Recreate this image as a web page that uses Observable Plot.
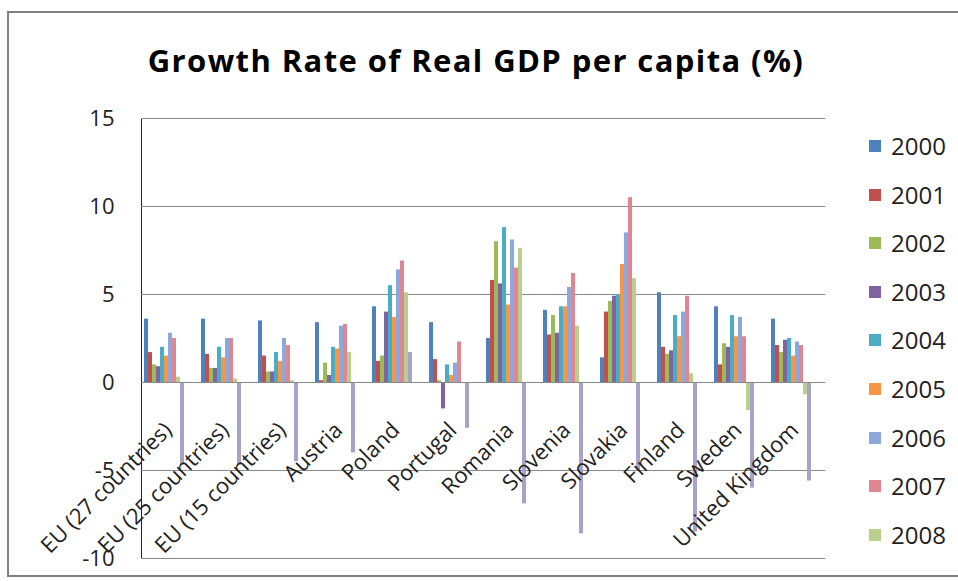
<!DOCTYPE html>
<html>
<head>
<meta charset="utf-8">
<script src="https://cdn.jsdelivr.net/npm/d3@7"></script>
<script src="https://cdn.jsdelivr.net/npm/@observablehq/plot@0.6"></script>
<style>
  html, body { margin: 0; padding: 0; background: #fff; }
  #wrap { position: relative; width: 958px; height: 581px; overflow: hidden; background: #fff; font-family: "Open Sans", sans-serif; }
  #border { position: absolute; left: 7px; top: 11px; width: 1000px; height: 566px; border: 2px solid #808080; box-sizing: border-box; }
  #title { position: absolute; left: 0; top: 45px; width: 952px; text-align: center; font-weight: bold; font-size: 31px; line-height: 31px; letter-spacing: 1.4px; color: #000; white-space: nowrap; }
  #chart { position: absolute; left: 0; top: 0; }
  .lg { position: absolute; left: 869px; height: 26px; font-size: 24px; line-height: 26px; color: #222; white-space: nowrap; }
  .lg span.sw { position: absolute; left: 0; top: 7px; width: 12px; height: 12px; }
  .lg span.tx { position: absolute; left: 22px; top: 0; }
</style>
</head>
<body>
<div id="wrap">
  <div id="border"></div>
  <div id="chart"></div>
  <div id="title">Growth Rate of Real GDP per capita (%)</div>
  <div id="legend"></div>
</div>
<script>
const countries = ["EU (27 countries)", "EU (25 countries)", "EU (15 countries)", "Austria", "Poland", "Portugal", "Romania", "Slovenia", "Slovakia", "Finland", "Sweden", "United Kingdom"];
const years = ["2000", "2001", "2002", "2003", "2004", "2005", "2006", "2007", "2008", "2009"];
const legendYears = ["2000", "2001", "2002", "2003", "2004", "2005", "2006", "2007", "2008"];
const yTicks = [-10, -5, 0, 5, 10, 15];

const v2000 = [3.6, 3.6, 3.5, 3.4, 4.3, 3.4, 2.5, 4.1, 1.4, 5.1, 4.3, 3.6];
const v2001 = [1.7, 1.6, 1.5, 0.1, 1.2, 1.3, 5.8, 2.7, 4.0, 2.0, 1.0, 2.1];
const v2002 = [1.0, 0.8, 0.6, 1.1, 1.5, 0.1, 8.0, 3.8, 4.6, 1.6, 2.2, 1.7];
const v2003 = [0.9, 0.8, 0.6, 0.4, 4.0, -1.5, 5.6, 2.8, 4.9, 1.8, 2.0, 2.4];
const v2004 = [2.0, 2.0, 1.7, 2.0, 5.5, 1.0, 8.8, 4.3, 5.0, 3.8, 3.8, 2.5];
const v2005 = [1.5, 1.4, 1.2, 1.9, 3.7, 0.4, 4.4, 4.3, 6.7, 2.6, 2.6, 1.5];
const v2006 = [2.8, 2.5, 2.5, 3.2, 6.4, 1.1, 8.1, 5.4, 8.5, 4.0, 3.7, 2.3];
const v2007 = [2.5, 2.5, 2.1, 3.3, 6.9, 2.3, 6.5, 6.2, 10.5, 4.9, 2.6, 2.1];
const v2008 = [0.3, 0.2, 0.1, 1.7, 5.1, 0.0, 7.6, 3.2, 5.9, 0.5, -1.6, -0.7];
const v2009 = [-4.7, -4.7, -4.5, -4.0, 1.7, -2.6, -6.9, -8.6, -5.0, -8.5, -6.0, -5.6];

const colors = ["#4F81BD", "#C0504D", "#9BBB59", "#8064A2", "#4BACC6", "#F79646", "#8DA8DC", "#DE8791", "#BACF8E", "#A9A2C8"];

const series = [v2000, v2001, v2002, v2003, v2004, v2005, v2006, v2007, v2008, v2009];
const data = [];
series.forEach((vals, si) => {
  vals.forEach((v, ci) => data.push({country: countries[ci], year: years[si], value: v}));
});

const chart = Plot.plot({
  width: 958,
  height: 581,
  marginLeft: 140,
  marginRight: 132,
  marginTop: 118,
  marginBottom: 23,
  style: {fontFamily: "Open Sans", fontSize: "22px", color: "#222", background: "transparent"},
  fx: {domain: countries, paddingInner: 0, paddingOuter: 0, axis: null, label: null},
  x: {domain: years, paddingInner: 0, paddingOuter: 0.83, align: 0.2, axis: null},
  y: {domain: [-10, 15], ticks: yTicks, tickSize: 0, tickPadding: 27, tickFormat: d => String(d), label: null, line: true},
  color: {domain: years, range: colors},
  marks: [
    Plot.ruleY(yTicks.filter(d => d !== 0), {stroke: "#8a8a8a", strokeWidth: 1.2}),
    Plot.barY(data, {fx: "country", x: "year", y: "value", fill: "year"}),
    Plot.ruleY([0], {stroke: "#8a8a8a", strokeWidth: 1.2}),
    Plot.text(countries, {fx: d => d, y: () => 0, text: d => d, rotate: -45, textAnchor: "end", lineAnchor: "middle", dx: -2, dy: 44, fontSize: 22, fill: "#222"})
  ]
});
document.getElementById("chart").appendChild(chart);

const lg = document.getElementById("legend");
legendYears.forEach((yr, i) => {
  const row = document.createElement("div");
  row.className = "lg";
  row.style.top = (146 + i * 48.6 - 13) + "px";
  const sw = document.createElement("span");
  sw.className = "sw";
  sw.style.background = colors[years.indexOf(yr)];
  const tx = document.createElement("span");
  tx.className = "tx";
  tx.textContent = yr;
  row.appendChild(sw);
  row.appendChild(tx);
  lg.appendChild(row);
});
</script>
</body>
</html>
